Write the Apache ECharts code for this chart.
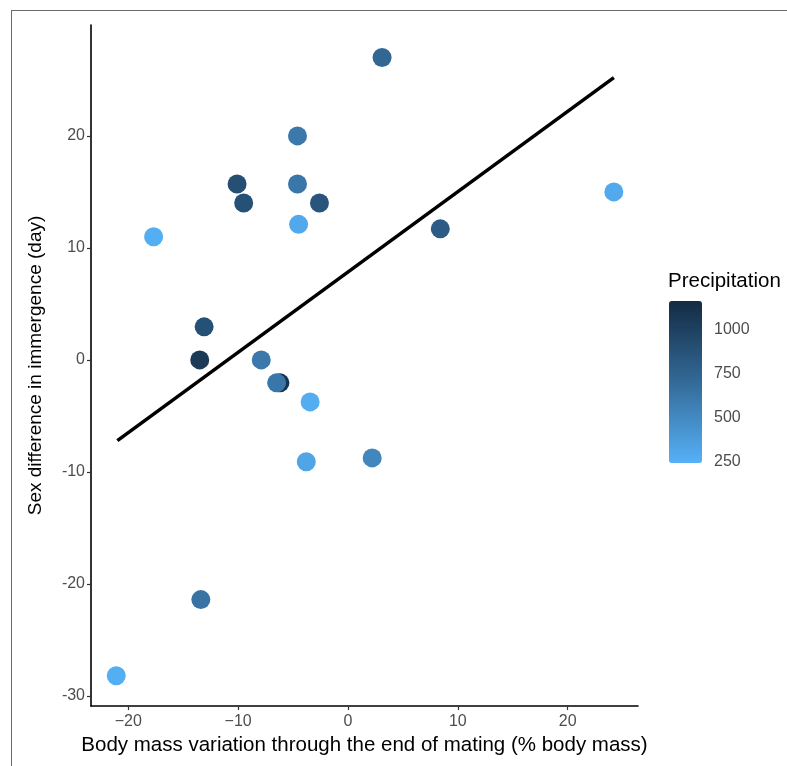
<!DOCTYPE html>
<html>
<head>
<meta charset="utf-8">
<script src="https://cdn.jsdelivr.net/npm/echarts@6/dist/echarts.min.js"></script>
<style>
  html, body { margin: 0; padding: 0; background: #fff; }
  #frame { position: absolute; left: 11px; top: 10px; width: 800px; height: 800px;
           border-left: 1px solid #6a6a6a; border-top: 1px solid #6a6a6a; }
  #chart { position: absolute; left: 0; top: 0; width: 787px; height: 766px; }
</style>
</head>
<body>
<div id="frame"></div>
<div id="chart"></div>
<script>
// Body mass variation (% body mass)
const xValues = [3.1, -4.6, -10.1, -4.6, -9.5, -2.6, -4.5, -17.7, 24.2, 8.4,
                 -13.1, -13.5, -7.9, -6.2, -6.5, -3.45, -3.8, 2.2, -13.4, -21.1];
// Sex difference in immergence (day)
const yValues = [27.0, 20.0, 15.7, 15.7, 14.0, 14.0, 12.1, 11.0, 15.0, 11.7,
                 2.95, 0.0, 0.0, -2.05, -2.05, -3.75, -9.1, -8.75, -21.4, -28.2];
// Precipitation
const precip = [720, 600, 900, 620, 880, 850, 300, 260, 290, 800,
                880, 1050, 600, 1100, 620, 270, 320, 520, 640, 260];
// Fitted line end points
const lineX = [-21.0, 24.2];
const lineY = [-7.2, 25.2];
// Tick values
const xTicks = [-20, -10, 0, 10, 20];
const yTicks = [-30, -20, -10, 0, 10, 20];
const precipTicks = [250, 500, 750, 1000];
const precipRange = [240, 1160];

const FONT = "'Liberation Sans', Arial, sans-serif";
const chart = echarts.init(document.getElementById('chart'));

const scatterData = xValues.map((x, i) => [x, yValues[i], precip[i]]);

chart.setOption({
  animation: false,
  textStyle: { fontFamily: FONT },
  title: {
    text: 'Precipitation', left: 668, top: 271, padding: 0,
    textStyle: { fontFamily: FONT, fontSize: 20.5, fontWeight: 'normal', color: '#000' }
  },
  grid: [
    { left: 91, right: 149, top: 25, bottom: 60 },
    { left: 669, top: 301, width: 33, height: 162 }
  ],
  xAxis: [
    {
      gridIndex: 0, type: 'value', min: -23.4, max: 26.4,
      name: 'Body mass variation through the end of mating (% body mass)',
      nameLocation: 'middle', nameGap: 29,
      nameTextStyle: { fontFamily: FONT, fontSize: 20.5, color: '#000' },
      axisLine: { show: true, onZero: false, lineStyle: { color: '#000', width: 1.6 } },
      axisTick: { show: true, length: 4, customValues: xTicks, lineStyle: { color: '#333', width: 1.2 } },
      axisLabel: { customValues: xTicks, margin: 8, fontSize: 16, color: '#4d4d4d', fontFamily: FONT,
                   formatter: v => String(v).replace('-', '\u2212') },
      splitLine: { show: false }
    },
    { gridIndex: 1, type: 'value', min: 0, max: 1, show: false }
  ],
  yAxis: [
    {
      gridIndex: 0, type: 'value', min: -30.9, max: 29.9,
      name: 'Sex difference in immergence (day)',
      nameLocation: 'middle', nameGap: 46,
      nameTextStyle: { fontFamily: FONT, fontSize: 19, color: '#000' },
      axisLine: { show: true, onZero: false, lineStyle: { color: '#000', width: 1.6 } },
      axisTick: { show: true, length: 4, customValues: yTicks, lineStyle: { color: '#333', width: 1.2 } },
      axisLabel: { customValues: yTicks, margin: 6, fontSize: 16, color: '#4d4d4d', fontFamily: FONT },
      splitLine: { show: false }
    },
    {
      gridIndex: 1, type: 'value', min: precipRange[0], max: precipRange[1], position: 'left',
      axisLine: { show: false },
      axisTick: { show: true, inside: true, length: 6, customValues: precipTicks, lineStyle: { color: '#fff', width: 1 } },
      axisLabel: { show: false },
      splitLine: { show: false }
    },
    {
      gridIndex: 1, type: 'value', min: precipRange[0], max: precipRange[1], position: 'right',
      axisLine: { show: false },
      axisTick: { show: true, inside: true, length: 6, customValues: precipTicks, lineStyle: { color: '#fff', width: 1 } },
      axisLabel: { customValues: precipTicks, margin: 12, fontSize: 16, color: '#4d4d4d', fontFamily: FONT,
                   formatter: v => String(v) },
      splitLine: { show: false }
    }
  ],
  visualMap: {
    type: 'continuous', min: precipRange[0], max: precipRange[1], dimension: 2, seriesIndex: 0,
    left: 669, top: 301, itemWidth: 33, itemHeight: 162, padding: 0,
    calculable: false, hoverLink: false, realtime: false,
    inRange: { color: ['#56B1F7', '#336A98', '#132B43'] }
  },
  series: [
    {
      type: 'scatter', xAxisIndex: 0, yAxisIndex: 0, symbolSize: 19,
      itemStyle: { opacity: 1 },
      data: scatterData, z: 3
    },
    {
      type: 'line', xAxisIndex: 0, yAxisIndex: 0, symbol: 'none',
      lineStyle: { color: '#000', width: 3.5, cap: 'butt' },
      data: [[lineX[0], lineY[0]], [lineX[1], lineY[1]]], z: 4
    }
  ]
});
</script>
</body>
</html>
